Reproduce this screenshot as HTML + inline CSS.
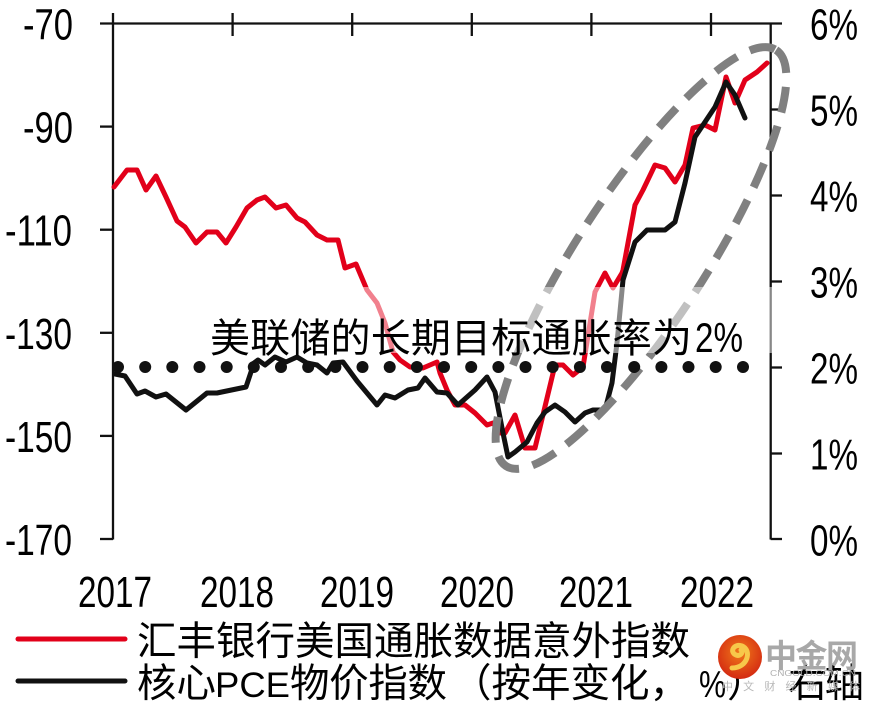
<!DOCTYPE html>
<html>
<head>
<meta charset="utf-8">
<style>
  html,body{margin:0;padding:0;background:#fff;}
  svg{display:block;}
  .num{font-family:"Liberation Sans",Arial,sans-serif;font-size:44px;fill:#000;}
  .cjk{font-family:"Liberation Sans","Noto Sans CJK SC",sans-serif;fill:#000;}
  .big2{font-family:"Liberation Sans",Arial,sans-serif;font-size:42px;fill:#000;}
</style>
</head>
<body>
<svg width="873" height="707" viewBox="0 0 873 707" xmlns="http://www.w3.org/2000/svg">
  <rect x="0" y="0" width="873" height="707" fill="#fff"/>

  <!-- axes -->
  <g stroke="#111" stroke-width="2.3" fill="none">
    <line x1="100" y1="23.5" x2="782" y2="23.5"/>
    <line x1="113" y1="13" x2="113" y2="539.5"/>
    <line x1="770.7" y1="23.5" x2="770.7" y2="539.5"/>
    <line x1="100" y1="126.6" x2="113" y2="126.6"/>
    <line x1="100" y1="229.7" x2="113" y2="229.7"/>
    <line x1="100" y1="332.8" x2="113" y2="332.8"/>
    <line x1="100" y1="435.9" x2="113" y2="435.9"/>
    <line x1="100" y1="539" x2="113" y2="539"/>
    <line x1="232.6" y1="13" x2="232.6" y2="36"/>
    <line x1="352.2" y1="13" x2="352.2" y2="36"/>
    <line x1="471.8" y1="13" x2="471.8" y2="36"/>
    <line x1="591.4" y1="13" x2="591.4" y2="36"/>
    <line x1="711" y1="13" x2="711" y2="36"/>
    <line x1="770.7" y1="109.5" x2="782" y2="109.5"/>
    <line x1="770.7" y1="195.5" x2="782" y2="195.5"/>
    <line x1="770.7" y1="281.5" x2="782" y2="281.5"/>
    <line x1="770.7" y1="367.5" x2="782" y2="367.5"/>
    <line x1="770.7" y1="453.5" x2="782" y2="453.5"/>
    <line x1="770.7" y1="539" x2="782" y2="539"/>
  </g>

  <!-- left labels -->
  <g class="num">
    <text x="23" y="39.5" textLength="50" lengthAdjust="spacingAndGlyphs">-70</text>
    <text x="23" y="142.6" textLength="50" lengthAdjust="spacingAndGlyphs">-90</text>
    <text x="5" y="245.7" textLength="67" lengthAdjust="spacingAndGlyphs">-110</text>
    <text x="5" y="348.8" textLength="67" lengthAdjust="spacingAndGlyphs">-130</text>
    <text x="5" y="451.9" textLength="67" lengthAdjust="spacingAndGlyphs">-150</text>
    <text x="5" y="555" textLength="67" lengthAdjust="spacingAndGlyphs">-170</text>
  </g>
  <!-- right labels -->
  <g class="num">
    <text x="810" y="39.5" textLength="48" lengthAdjust="spacingAndGlyphs">6%</text>
    <text x="810" y="125.5" textLength="48" lengthAdjust="spacingAndGlyphs">5%</text>
    <text x="810" y="211.5" textLength="48" lengthAdjust="spacingAndGlyphs">4%</text>
    <text x="810" y="297.5" textLength="48" lengthAdjust="spacingAndGlyphs">3%</text>
    <text x="810" y="383.5" textLength="48" lengthAdjust="spacingAndGlyphs">2%</text>
    <text x="810" y="469.5" textLength="48" lengthAdjust="spacingAndGlyphs">1%</text>
    <text x="810" y="555.5" textLength="48" lengthAdjust="spacingAndGlyphs">0%</text>
  </g>
  <!-- year labels -->
  <g class="num">
    <text x="78" y="607" textLength="74" lengthAdjust="spacingAndGlyphs">2017</text>
    <text x="200" y="607" textLength="74" lengthAdjust="spacingAndGlyphs">2018</text>
    <text x="320" y="607" textLength="74" lengthAdjust="spacingAndGlyphs">2019</text>
    <text x="440" y="607" textLength="74" lengthAdjust="spacingAndGlyphs">2020</text>
    <text x="559" y="607" textLength="74" lengthAdjust="spacingAndGlyphs">2021</text>
    <text x="680" y="607" textLength="74" lengthAdjust="spacingAndGlyphs">2022</text>
  </g>

  <!-- red series -->
  <polyline fill="none" stroke="#e2001a" stroke-width="5" stroke-linejoin="round" stroke-linecap="round"
    points="114,187 127,170 137,170 146,190 156,176 166,197 177,221 185,227 196,243 207,232 217,232 226,243 236,227 247,208 257,200 265,197 276,208 286,205 297,218 305,222 317,235 327,240 338,240 345,268 356,264 367,290 377,303 385,323 393,352 400,360 410,367 423,368 437,362 440,373 447,390 455,405 465,405 475,413 487,425 493,423 500,433 505,433 515,415 525,448 535,448 555,365 563,365 573,375 583,367 595,292 605,273 613,288 622,273 623,270 635,205 643,190 655,165 665,168 675,182 685,165 693,128 705,125 715,130 726,77 735,103 745,80 757,72 767,63"/>

  <!-- black series -->
  <polyline fill="none" stroke="#111" stroke-width="5" stroke-linejoin="round" stroke-linecap="round"
    points="115,374 125,376 137,394 145,391 156,397 166,394 186,410 207,393 217,393 246,387 254,363 258,360 265,365 275,357 286,362 297,357 307,363 317,365 327,373 333,363 343,362 357,381 367,393 377,405 385,395 395,398 408,390 418,388 425,378 437,392 447,393 458,405 475,390 487,377 495,392 503,433 508,457 515,452 527,442 537,423 545,412 555,405 565,412 575,422 585,413 593,410 605,410 612,383 617,343 623,280 635,242 647,230 665,230 675,222 685,183 695,137 705,122 715,107 726,82 735,95 745,118"/>

  <!-- dashed ellipse -->
  <ellipse cx="641" cy="258" rx="248" ry="64" transform="rotate(-57 641 258)"
    fill="none" stroke="#808080" stroke-width="8" stroke-dasharray="26 14"/>

  <!-- 2% dotted line -->
  <g fill="#111">
    <circle cx="118" cy="367" r="6"/><circle cx="145.2" cy="367" r="6"/><circle cx="172.3" cy="367" r="6"/>
    <circle cx="199.5" cy="367" r="6"/><circle cx="226.7" cy="367" r="6"/><circle cx="253.8" cy="367" r="6"/>
    <circle cx="281" cy="367" r="6"/><circle cx="308.2" cy="367" r="6"/><circle cx="335.4" cy="367" r="6"/>
    <circle cx="362.5" cy="367" r="6"/><circle cx="389.7" cy="367" r="6"/><circle cx="416.9" cy="367" r="6"/>
    <circle cx="444" cy="367" r="6"/><circle cx="471.2" cy="367" r="6"/><circle cx="498.4" cy="367" r="6"/>
    <circle cx="525.5" cy="367" r="6"/><circle cx="552.7" cy="367" r="6"/><circle cx="579.9" cy="367" r="6"/>
    <circle cx="607" cy="367" r="6"/><circle cx="634.2" cy="367" r="6"/><circle cx="661.4" cy="367" r="6"/>
    <circle cx="688.5" cy="367" r="6"/><circle cx="715.7" cy="367" r="6"/><circle cx="743" cy="367" r="6"/>
  </g>

  <!-- annotation box -->
  <rect x="205" y="287" width="570" height="66" fill="#fff" fill-opacity="0.5"/>
  <text class="cjk" x="210" y="352" font-size="40" textLength="482" lengthAdjust="spacing">美联储的长期目标通胀率为</text>
  <text class="big2" x="695" y="352" textLength="48" lengthAdjust="spacingAndGlyphs">2%</text>

  <!-- legend -->
  <line x1="18" y1="639" x2="125" y2="639" stroke="#e2001a" stroke-width="5" stroke-linecap="round"/>
  <line x1="18" y1="681" x2="125" y2="681" stroke="#111" stroke-width="5" stroke-linecap="round"/>
  <text class="cjk" x="137" y="655" font-size="39.5" textLength="553" lengthAdjust="spacing">汇丰银行美国通胀数据意外指数</text>
  <text class="cjk" x="137" y="697" font-size="39.5" textLength="79" lengthAdjust="spacing">核心</text>
  <text class="cjk" x="215" y="697" font-size="35" textLength="75" lengthAdjust="spacingAndGlyphs">PCE</text>
  <text class="cjk" x="290" y="697" font-size="39.5" textLength="157" lengthAdjust="spacing">物价指数</text>
  <text class="cjk" x="452" y="697" font-size="39.5" textLength="237" lengthAdjust="spacing">（按年变化，</text>
  <text class="cjk" x="699" y="697" font-size="38" textLength="27" lengthAdjust="spacingAndGlyphs">%</text>
  <text class="cjk" x="727" y="697" font-size="39.5">）</text>
  <text class="cjk" x="788" y="697" font-size="39.5" textLength="76" lengthAdjust="spacing">右轴</text>

  <!-- watermark -->
  <defs>
    <radialGradient id="wg" cx="50%" cy="40%" r="60%">
      <stop offset="0%" stop-color="#f07a1a"/>
      <stop offset="100%" stop-color="#d42a12"/>
    </radialGradient>
  </defs>
  <circle cx="740" cy="657" r="22" fill="url(#wg)"/>
  <path d="M732,668 C748,668 752,650 742,646 C734,643 729,652 736,655 C740,657 744,652 741,650" fill="none" stroke="#f7c84a" stroke-width="5" stroke-linecap="round"/>
  <text x="765" y="667" font-family="'Noto Sans CJK SC',sans-serif" font-size="32" font-weight="bold" fill="#a8a8a8" textLength="93" lengthAdjust="spacing">中金网</text>
  <text x="770" y="676" font-family="'Liberation Sans',sans-serif" font-size="8" fill="#b0b0b0" textLength="86" lengthAdjust="spacingAndGlyphs">CNGOLD.COM.CN</text>
  <text x="722" y="690" font-family="'Noto Sans CJK SC',sans-serif" font-size="11" fill="#b8b8b8" textLength="138" lengthAdjust="spacing">中文财经新媒体</text>
</svg>
</body>
</html>
